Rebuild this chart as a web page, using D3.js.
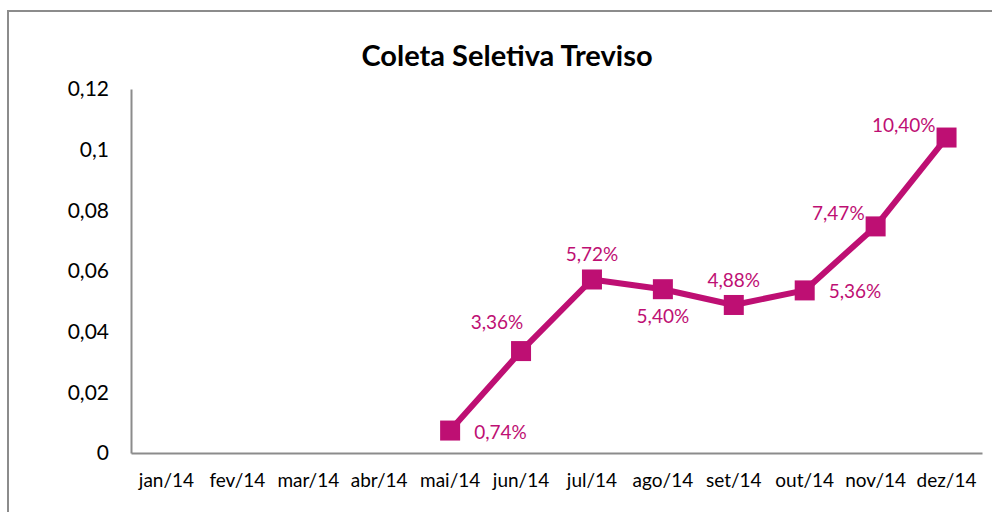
<!DOCTYPE html>
<html>
<head>
<meta charset="utf-8">
<script src="https://cdn.jsdelivr.net/npm/d3@7"></script>
<style>
  html, body { margin: 0; padding: 0; background: #fff; overflow: hidden; }
  svg { display: block; }
  text { font-family: Lato, "Open Sans", sans-serif; }
</style>
</head>
<body>
<div id="chart"></div>
<script>
// Monthly share of selective collection, Treviso 2014
const months = ["jan/14","fev/14","mar/14","abr/14","mai/14","jun/14","jul/14","ago/14","set/14","out/14","nov/14","dez/14"];
const seriesMonths = ["mai/14","jun/14","jul/14","ago/14","set/14","out/14","nov/14","dez/14"];
const seriesValues = [0.0074, 0.0336, 0.0572, 0.0540, 0.0488, 0.0536, 0.0747, 0.1040];
const labelSide = ["right","above-left","above","below","above","right","left","left"];
const yTicks = [0, 0.02, 0.04, 0.06, 0.08, 0.1, 0.12];
const titleText = "Coleta Seletiva Treviso";

const W = 992, H = 512;
const color = "#BE0F73";
const margin = { left: 131, right: 10, top: 89, bottom: 59 };

const svg = d3.select("#chart").append("svg").attr("width", W).attr("height", H);

// chart frame (top and left edges fall inside the view)
svg.append("path")
  .attr("d", `M${W + 5},11 H8 V${H + 5}`)
  .attr("fill", "none").attr("stroke", "#8c8c8c").attr("stroke-width", 2);

const x = d3.scaleBand().domain(months).range([margin.left, W - margin.right]);
const y = d3.scaleLinear().domain([0, 0.12]).range([H - margin.bottom, margin.top]);

const fmtTick = v => String(v).replace(".", ",");
const fmtPct = v => (v * 100).toFixed(2).replace(".", ",") + "%";

svg.append("text")
  .attr("x", 507).attr("y", 66)
  .attr("text-anchor", "middle")
  .attr("font-size", 29).attr("font-weight", "bold").attr("fill", "#000")
  .text(titleText);

// y axis
const yAxis = svg.append("g")
  .attr("transform", `translate(${margin.left},0)`)
  .call(d3.axisLeft(y).tickValues(yTicks).tickFormat(fmtTick).tickSize(0).tickPadding(22));
yAxis.select(".domain").attr("stroke", "#8c8c8c").attr("stroke-width", 2);
yAxis.selectAll("text").attr("font-size", 21).attr("fill", "#000")
  .attr("font-family", "Lato, 'Open Sans', sans-serif");

// x axis
const xAxis = svg.append("g")
  .attr("transform", `translate(0,${H - margin.bottom})`)
  .call(d3.axisBottom(x).tickSize(0).tickPadding(21));
xAxis.select(".domain").attr("stroke", "#8c8c8c").attr("stroke-width", 2);
xAxis.selectAll("text").attr("font-size", 19).attr("fill", "#000")
  .attr("font-family", "Lato, 'Open Sans', sans-serif");

const pts = seriesMonths.map((m, i) => ({ m, v: seriesValues[i], side: labelSide[i] }));
const cx = d => x(d.m) + x.bandwidth() / 2;

svg.append("path")
  .datum(pts)
  .attr("fill", "none").attr("stroke", color).attr("stroke-width", 6)
  .attr("stroke-linejoin", "round")
  .attr("d", d3.line().x(cx).y(d => y(d.v)));

const S = 20;
svg.selectAll("rect.mk").data(pts).join("rect")
  .attr("class", "mk")
  .attr("x", d => cx(d) - S / 2).attr("y", d => y(d.v) - S / 2)
  .attr("width", S).attr("height", S).attr("fill", color);

const off = {
  "right": [24, 8, "start"],
  "left": [-11, -6, "end"],
  "above": [0, -18, "middle"],
  "below": [0, 34, "middle"],
  "above-left": [-24, -22, "middle"]
};
svg.selectAll("text.lbl").data(pts).join("text")
  .attr("class", "lbl")
  .attr("x", d => cx(d) + off[d.side][0])
  .attr("y", d => y(d.v) + off[d.side][1])
  .attr("text-anchor", d => off[d.side][2])
  .attr("font-size", 19).attr("fill", color)
  .text(d => fmtPct(d.v));
</script>
</body>
</html>
